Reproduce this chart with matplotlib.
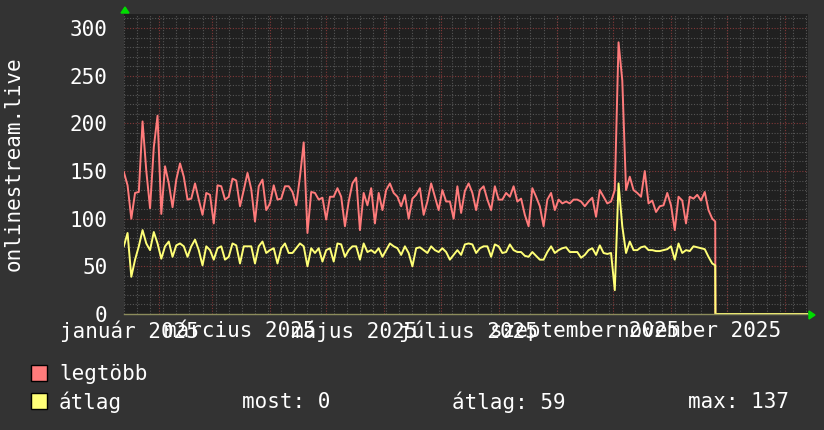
import datetime as dt
import numpy as np
import matplotlib
matplotlib.use("Agg")
import matplotlib.pyplot as plt
from matplotlib.patches import Rectangle, Polygon

plt.rcParams["font.family"] = "DejaVu Sans Mono"

W, H = 824, 430
BG = "#333333"
PLOT_BG = "#202020"
RED = "#ff7b7b"
YELLOW = "#ffff77"

# --- data: one value every 2 days, day 0 = 2025-01-01 ---
first_day = 12
step_days = 2
legtobb = [
    149, 135, 100, 127, 128, 202, 150, 111, 175, 208, 105, 155, 137, 112, 141, 158,
    144, 120, 121, 137, 120, 104, 127, 125, 95, 135, 134, 120, 123, 142, 140, 113,
    130, 148, 131, 97, 134, 141, 109, 116, 135, 120, 121, 134, 134, 128, 114, 144,
    180, 85, 128, 127, 120, 122, 99, 123, 123, 132, 123, 92, 118, 137, 143, 88,
    127, 114, 132, 95, 127, 109, 130, 137, 127, 123, 113, 125, 100, 121, 125, 132,
    104, 118, 137, 123, 109, 130, 118, 118, 100, 134, 106, 129, 137, 127, 109, 130,
    134, 120, 109, 134, 120, 120, 127, 123, 134, 118, 121, 104, 92, 132, 123, 113,
    92, 120, 127, 109, 120, 116, 118, 116, 120, 120, 118, 113, 118, 122, 102, 130,
    123, 116, 118, 130, 285, 245, 130, 144, 130, 127, 123, 150, 116, 119, 107, 113,
    114, 127, 114, 88, 123, 119, 95, 123, 121, 125, 119, 128, 109, 100,
]
atlag = [
    71, 85, 39, 57, 71, 88, 74, 67, 86, 74, 58, 71, 76, 60, 72, 74,
    71, 60, 71, 78, 67, 51, 71, 67, 57, 69, 71, 57, 60, 74, 72, 53,
    71, 71, 71, 53, 71, 76, 64, 67, 69, 53, 69, 74, 64, 64, 69, 74,
    71, 50, 69, 64, 69, 55, 67, 69, 55, 74, 73, 60, 67, 71, 71, 57,
    74, 65, 67, 64, 69, 60, 67, 74, 71, 69, 62, 71, 64, 50, 69, 70,
    67, 64, 71, 67, 65, 69, 65, 57, 62, 67, 62, 73, 74, 73, 64, 69,
    71, 71, 60, 73, 71, 64, 65, 73, 67, 65, 65, 61, 60, 65, 61, 57,
    57, 65, 71, 64, 67, 69, 70, 65, 65, 65, 59, 62, 67, 69, 62, 72,
    64, 63, 64, 25, 137, 92, 64, 76, 67, 67, 70, 71, 67, 67, 66, 66,
    67, 68, 71, 57, 74, 64, 67, 66, 71, 70, 69, 68, 60, 53,
]
# drop to zero at the end of the period
tail_days = [327.6, 327.7, 377.2]
legtobb_tail = [97, 0, 0]
atlag_tail = [51, 0, 0]

label_months = ["január", "március", "május", "július", "szeptember", "november"]
label_nums = [1, 3, 5, 7, 9, 11]
yticks = [0, 50, 100, 150, 200, 250, 300]

x_start, x_end = 12.1, 377.1
y_max = 314.7

base = dt.date(2025, 1, 1)
def day(d):
    return (d - base).days

days = first_day + step_days * np.arange(len(legtobb))
x_red = np.concatenate([days, tail_days])
y_red = np.concatenate([legtobb, legtobb_tail])
x_yel = np.concatenate([days, tail_days])
y_yel = np.concatenate([atlag, atlag_tail])

fig = plt.figure(figsize=(W / 100, H / 100), dpi=100, facecolor=BG)
ax = fig.add_axes([124 / W, 116 / H, 684 / W, 300 / H], facecolor=PLOT_BG)
ax.set_xlim(x_start, x_end)
ax.set_ylim(0, y_max)

# grid
minor_y = [v for v in range(10, 320, 10) if v % 50]
ax.hlines(minor_y, x_start, x_end, colors="#555555", lw=0.8, linestyles=(0, (1, 1.5)), zorder=1)
ax.hlines([v for v in yticks if v > 0], x_start, x_end, colors="#833838", lw=0.8,
          linestyles=(0, (1, 1.5)), zorder=1)
mondays = np.arange(day(dt.date(2025, 1, 13)), x_end, 7)
ax.vlines(mondays, 0, y_max, colors="#555555", lw=0.8, linestyles=(0, (1, 1.5)), zorder=1)
month_starts = [day(dt.date(2025, m, 1)) for m in range(2, 13)] + [day(dt.date(2026, 1, 1))]
ax.vlines(month_starts, 0, y_max, colors="#833838", lw=0.8, linestyles=(0, (1, 1.5)), zorder=1)

ax.plot(x_red, y_red, color=RED, lw=1.4, zorder=3)
ax.plot(x_yel, y_yel, color=YELLOW, lw=1.4, zorder=4)

for s in ["top", "left", "right"]:
    ax.spines[s].set_visible(False)
ax.spines["bottom"].set_color("#8c8c5c")
ax.spines["bottom"].set_linewidth(1)
ax.spines["bottom"].set_zorder(5)

ax.set_yticks(yticks)
ax.set_yticklabels([str(v) for v in yticks])
label_days = [day(dt.date(2025, m, 1)) + 15 for m in label_nums]
ax.set_xticks(label_days)
ax.set_xticklabels([f"{m} 2025" for m in label_months])
ax.tick_params(axis="both", length=0, colors="white", labelsize=15)
ax.tick_params(axis="y", pad=12)
ax.tick_params(axis="x", pad=5)

fig.text(14 / W, 1 - 164 / H, "onlinestream.live", rotation=90, color="white",
         fontsize=15, ha="center", va="center")

# axis arrows
def fpx(x, y):
    return (x / W, 1 - y / H)

fig.add_artist(Polygon([fpx(121, 13), fpx(129, 13), fpx(125, 7)], closed=True,
                       color="#00dd00", transform=fig.transFigure))
fig.add_artist(Polygon([fpx(809, 311), fpx(809, 319), fpx(815, 315)], closed=True,
                       color="#00dd00", transform=fig.transFigure))

# legend
for ypx, col in [(365, RED), (393, YELLOW)]:
    fig.add_artist(Rectangle(fpx(31, ypx + 16), 16 / W, 16 / H, transform=fig.transFigure,
                             facecolor=col, edgecolor="black", lw=1))
fig.text(59 / W, 1 - 374 / H, "legtöbb", color="white", fontsize=15, va="center")
fig.text(59 / W, 1 - 402 / H, "átlag", color="white", fontsize=15, va="center")
fig.text(242 / W, 1 - 402 / H, "most: 0", color="white", fontsize=15, va="center")
fig.text(452 / W, 1 - 402 / H, "átlag: 59", color="white", fontsize=15, va="center")
fig.text(688 / W, 1 - 402 / H, "max: 137", color="white", fontsize=15, va="center")

fig.savefig("out.png", dpi=100, facecolor=BG)
